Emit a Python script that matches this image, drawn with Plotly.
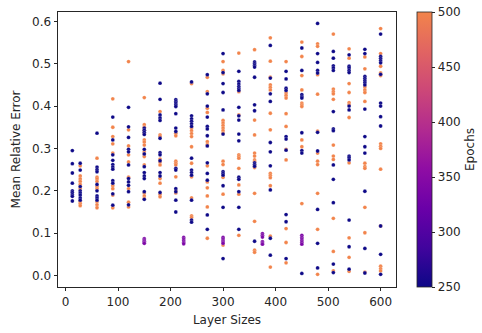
import plotly.graph_objects as go

# Layer sizes (x columns)
layer_sizes = [13, 28, 60, 90, 120, 150, 180, 210, 225, 240, 270, 300, 330, 360,
               375, 390, 420, 450, 480, 510, 540, 570, 600]

# Mean relative error for 250-epoch runs, per layer size
err_250 = {
    13: [0.295, 0.264, 0.242, 0.218, 0.200, 0.196, 0.191, 0.187, 0.176],
    28: [0.265, 0.249, 0.210, 0.200, 0.195, 0.190, 0.183, 0.178],
    60: [0.336, 0.256, 0.250, 0.245, 0.215, 0.200, 0.188, 0.183, 0.178],
    90: [0.374, 0.320, 0.285, 0.272, 0.262, 0.256, 0.251, 0.224, 0.218, 0.193, 0.166],
    120: [0.397, 0.351, 0.326, 0.298, 0.292, 0.261, 0.229, 0.221, 0.213, 0.198, 0.167],
    150: [0.348, 0.343, 0.338, 0.333, 0.298, 0.287, 0.257, 0.243, 0.235, 0.229, 0.198, 0.180],
    180: [0.454, 0.416, 0.379, 0.372, 0.366, 0.324, 0.290, 0.285, 0.271, 0.243, 0.235, 0.196],
    210: [0.415, 0.411, 0.407, 0.403, 0.399, 0.382, 0.348, 0.340, 0.253, 0.249, 0.205, 0.198, 0.178, 0.150],
    225: [],
    240: [0.457, 0.377, 0.370, 0.364, 0.358, 0.352, 0.277, 0.249, 0.243, 0.237, 0.178, 0.131, 0.126],
    270: [0.474, 0.429, 0.400, 0.374, 0.352, 0.346, 0.330, 0.306, 0.266, 0.241, 0.225, 0.143, 0.109],
    300: [0.524, 0.479, 0.453, 0.432, 0.391, 0.334, 0.245, 0.241, 0.237, 0.212, 0.161, 0.040],
    330: [0.482, 0.458, 0.452, 0.446, 0.441, 0.437, 0.397, 0.377, 0.367, 0.334, 0.318, 0.232, 0.227, 0.198, 0.161, 0.109],
    360: [0.504, 0.500, 0.496, 0.492, 0.468, 0.403, 0.389, 0.266, 0.262, 0.258, 0.081],
    375: [],
    390: [0.543, 0.466, 0.429, 0.411, 0.314, 0.292, 0.259, 0.202, 0.088, 0.048],
    420: [0.482, 0.464, 0.442, 0.437, 0.328, 0.322, 0.296, 0.144, 0.127, 0.040],
    450: [0.537, 0.484, 0.427, 0.422, 0.419, 0.337, 0.295, 0.289, 0.005],
    480: [0.595, 0.524, 0.503, 0.484, 0.478, 0.338, 0.294, 0.156, 0.076, 0.018],
    510: [0.529, 0.513, 0.495, 0.490, 0.484, 0.387, 0.346, 0.342, 0.261, 0.227, 0.172, 0.027, 0.007],
    540: [0.521, 0.494, 0.490, 0.484, 0.479, 0.400, 0.391, 0.282, 0.278, 0.273, 0.131, 0.068, 0.015],
    570: [0.534, 0.524, 0.470, 0.465, 0.460, 0.455, 0.450, 0.393, 0.328, 0.304, 0.289, 0.199, 0.064, 0.006],
    600: [0.570, 0.517, 0.512, 0.507, 0.502, 0.475, 0.407, 0.400, 0.375, 0.353, 0.117, 0.050, 0.003],
}

# Mean relative error for 500-epoch runs
err_500 = {
    13: [],
    28: [0.259, 0.235, 0.228, 0.222, 0.215, 0.205, 0.175, 0.170, 0.165],
    60: [0.277, 0.232, 0.228, 0.222, 0.210, 0.205, 0.174, 0.167, 0.160],
    90: [0.417, 0.350, 0.328, 0.311, 0.289, 0.212, 0.205, 0.190, 0.160],
    120: [0.505, 0.344, 0.306, 0.285, 0.268, 0.232, 0.205, 0.173, 0.162],
    150: [0.420, 0.356, 0.350, 0.343, 0.335, 0.320, 0.315, 0.308, 0.292, 0.287, 0.281, 0.261, 0.195, 0.188, 0.182],
    180: [0.387, 0.332, 0.328, 0.275, 0.268, 0.261, 0.229, 0.218, 0.192, 0.186],
    210: [0.336, 0.330, 0.270, 0.265, 0.261, 0.233, 0.200, 0.195],
    225: [],
    240: [0.453, 0.348, 0.342, 0.335, 0.328, 0.304, 0.265, 0.233, 0.183, 0.141, 0.137],
    270: [0.468, 0.434, 0.395, 0.385, 0.316, 0.309, 0.259, 0.221, 0.207, 0.188, 0.162, 0.088],
    300: [0.505, 0.484, 0.476, 0.366, 0.360, 0.354, 0.348, 0.342, 0.336, 0.270, 0.262, 0.232, 0.192, 0.072],
    330: [0.525, 0.434, 0.379, 0.285, 0.281, 0.277, 0.253, 0.214, 0.192, 0.095],
    360: [0.533, 0.367, 0.332, 0.289, 0.282, 0.273, 0.269, 0.261, 0.255, 0.194, 0.128, 0.060, 0.055],
    375: [],
    390: [0.561, 0.506, 0.468, 0.450, 0.444, 0.438, 0.383, 0.344, 0.241, 0.236, 0.231, 0.212, 0.093, 0.020],
    420: [0.505, 0.431, 0.425, 0.419, 0.382, 0.352, 0.298, 0.273, 0.111, 0.078, 0.030],
    450: [0.551, 0.517, 0.472, 0.438, 0.407, 0.403, 0.399, 0.320, 0.304, 0.170],
    480: [0.547, 0.541, 0.474, 0.428, 0.341, 0.289, 0.270, 0.262, 0.194, 0.109, 0.003],
    510: [0.570, 0.440, 0.434, 0.429, 0.416, 0.308, 0.282, 0.274, 0.135, 0.057, 0.011],
    540: [0.535, 0.513, 0.453, 0.432, 0.408, 0.403, 0.373, 0.266, 0.089, 0.043, 0.010],
    570: [0.516, 0.488, 0.445, 0.438, 0.432, 0.411, 0.265, 0.257, 0.253, 0.161, 0.101, 0.008],
    600: [0.583, 0.524, 0.494, 0.478, 0.472, 0.311, 0.305, 0.300, 0.251, 0.117, 0.022, 0.016, 0.011],
}

# Intermediate-epoch runs (purple clusters)
err_mid = {
    150: [0.087, 0.084, 0.081, 0.078, 0.076],
    225: [0.090, 0.086, 0.082, 0.078, 0.075],
    300: [0.090, 0.086, 0.082, 0.079, 0.076],
    375: [0.099, 0.095, 0.091, 0.080, 0.077, 0.074],
    450: [0.095, 0.090, 0.086, 0.082, 0.078, 0.074],
}
mid_epochs = 340

epoch_ticks = [250, 300, 350, 400, 450, 500]
x_ticks = [0, 100, 200, 300, 400, 500, 600]
y_ticks = [0.0, 0.1, 0.2, 0.3, 0.4, 0.5, 0.6]

xs, ys, cs = [], [], []
for epochs, table in [(500, err_500), (mid_epochs, err_mid), (250, err_250)]:
    for size in layer_sizes:
        for v in table.get(size, []):
            xs.append(size)
            ys.append(v)
            cs.append(epochs)

# truncated plasma colormap (0 .. 0.7)
plasma_trunc = [
    [0.0, "#0d0887"], [0.143, "#41049d"], [0.286, "#6a00a8"],
    [0.429, "#8f0da4"], [0.571, "#b12a90"], [0.714, "#cc4778"],
    [0.857, "#e16462"], [1.0, "#f2844b"],
]

font = dict(family="DejaVu Sans", size=12, color="#262626")

fig = go.Figure(go.Scatter(
    x=xs, y=ys, mode="markers",
    marker=dict(
        size=3.8, color=cs, colorscale=plasma_trunc, cmin=250, cmax=500,
        line=dict(color="rgba(255,255,255,0.5)", width=0.4),
        colorbar=dict(
            title=dict(text="Epochs", side="right", font=font),
            tickvals=epoch_ticks, ticks="outside", ticklen=3.5, tickwidth=0.8,
            tickcolor="#262626", tickfont=font,
            thickness=15, len=1.0, lenmode="fraction", y=0.5, yanchor="middle",
            x=1.062, xanchor="left", xpad=0, ypad=0,
            outlinewidth=0.8, outlinecolor="#262626",
        ),
    ),
    showlegend=False,
))

axis_common = dict(
    showgrid=False, zeroline=False, showline=True, linecolor="#262626", linewidth=0.8,
    mirror=True, ticks="outside", ticklen=3.5, tickwidth=0.8, tickcolor="#262626",
    tickfont=font,
)

fig.update_layout(
    width=482, height=333,
    margin=dict(l=58, r=86, t=12, b=46, autoexpand=False),
    paper_bgcolor="white", plot_bgcolor="white",
    font=font,
    xaxis=dict(range=[-14.3, 629.3], tickvals=x_ticks, automargin=False,
               title=dict(text="Layer Sizes", font=font, standoff=7), **axis_common),
    yaxis=dict(range=[-0.027, 0.622], tickvals=y_ticks, tickformat=".1f", automargin=False,
               title=dict(text="Mean Relative Error", font=font, standoff=8), **axis_common),
)

fig.write_html("out.html")
